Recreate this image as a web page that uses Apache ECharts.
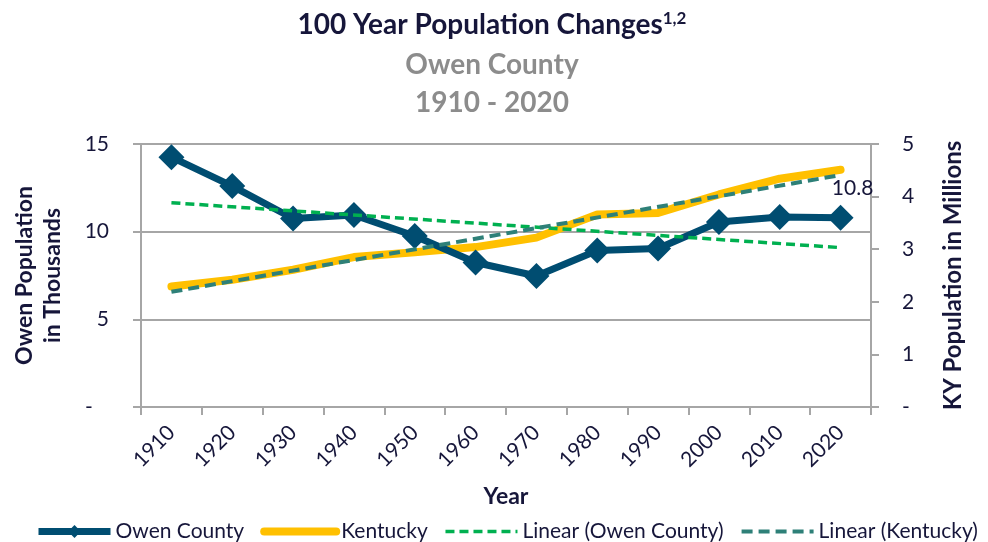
<!DOCTYPE html>
<html><head><meta charset="utf-8">
<script src="https://cdn.jsdelivr.net/npm/echarts@6/dist/echarts.min.js"></script>
<style>html,body{margin:0;padding:0;background:#fff}#c{width:988px;height:542px}</style>
</head><body><div id="c"></div>
<script>
const years = ['1910','1920','1930','1940','1950','1960','1970','1980','1990','2000','2010','2020'];
const owen = [14.25, 12.6, 10.75, 10.95, 9.75, 8.24, 7.47, 8.92, 9.04, 10.55, 10.84, 10.8];
const kentucky = [2.29, 2.42, 2.61, 2.85, 2.94, 3.04, 3.22, 3.66, 3.69, 4.04, 4.34, 4.51];
const linearOwen = [11.65, null, null, null, null, null, null, null, null, null, null, 9.09];
const linearKY = [2.19, null, null, null, null, null, null, null, null, null, null, 4.41];
const leftTicks = ['-   ', '5', '10', '15'];
const rightTicks = ['-', '1', '2', '3', '4', '5'];

const FONT = 'Lato';
const TXT = '#16163a';
const GRID = '#a6a6a6';
const chart = echarts.init(document.getElementById('c'), null, {renderer:'canvas'});
chart.setOption({
  animation: false,
  textStyle: {fontFamily: FONT},
  title: [
    {text: '{a|100 Year Population Changes}{s|1,2}', left: 487, top: 5, textAlign: 'center',
     textStyle: {rich: {a: {fontSize: 28, fontWeight: 'bold', color: TXT, fontFamily: FONT},
                        s: {fontSize: 17, fontWeight: 'bold', color: TXT, fontFamily: FONT, verticalAlign: 'top', padding:[0,0,12,0]}}}},
    {text: 'Owen County', left: 487, top: 46, textAlign: 'center',
     textStyle: {fontSize: 28, fontWeight: 'bold', color: '#8c8c8c', fontFamily: FONT}},
    {text: '1910 - 2020', left: 487, top: 84, textAlign: 'center',
     textStyle: {fontSize: 28, fontWeight: 'bold', color: '#8c8c8c', fontFamily: FONT}}
  ],
  legend: {
    top: 516, left: 30, itemWidth: 72, itemHeight: 16, itemGap: 16,
    textStyle: {fontSize: 21, color: TXT, fontFamily: FONT},
    lineStyle: {width: 'inherit'},
    data: [
      {name: 'Owen County'},
      {name: 'Kentucky', itemStyle: {opacity: 0}},
      {name: 'Linear (Owen County)', itemStyle: {opacity: 0}},
      {name: 'Linear (Kentucky)', itemStyle: {opacity: 0}}
    ]
  },
  grid: {left: 141, right: 117, top: 144, bottom: 135},
  xAxis: {
    type: 'category', data: years, boundaryGap: true,
    name: 'Year', nameLocation: 'middle', nameGap: 78,
    nameTextStyle: {fontSize: 23, fontWeight: 'bold', color: TXT},
    axisLine: {lineStyle: {color: GRID, width: 2}},
    axisTick: {show: true, length: 8, lineStyle: {color: GRID, width: 2}},
    axisLabel: {rotate: 45, fontSize: 21, color: TXT, margin: 22}
  },
  yAxis: [
    {type: 'value', min: 0, max: 15, interval: 5, position: 'left',
     name: 'Owen Population\nin Thousands', nameLocation: 'middle', nameGap: 74, nameRotate: 90,
     nameTextStyle: {fontSize: 23, fontWeight: 'bold', color: TXT, lineHeight: 28},
     axisLine: {show: true, lineStyle: {color: GRID, width: 2}},
     axisTick: {show: true, length: 8, lineStyle: {color: GRID, width: 2}},
     splitLine: {show: true, lineStyle: {color: GRID, width: 2}},
     axisLabel: {fontSize: 21, color: TXT, margin: 32, formatter: v => leftTicks[v/5]}},
    {type: 'value', min: 0, max: 5, interval: 1, position: 'right',
     name: 'KY Population in Millions', nameLocation: 'middle', nameGap: 70, nameRotate: 90,
     nameTextStyle: {fontSize: 24, fontWeight: 'bold', color: TXT},
     axisLine: {show: true, lineStyle: {color: GRID, width: 2}},
     axisTick: {show: true, length: 8, lineStyle: {color: GRID, width: 2}},
     splitLine: {show: false},
     axisLabel: {fontSize: 21, color: TXT, margin: 31, formatter: v => rightTicks[v]}}
  ],
  series: [
    {name: 'Kentucky', type: 'line', yAxisIndex: 1, data: kentucky, symbol: 'none', z: 2,
     lineStyle: {color: '#ffc000', width: 8, cap: 'round'}, itemStyle: {color: '#ffc000'}},
    {name: 'Owen County', type: 'line', yAxisIndex: 0, data: owen, symbol: 'diamond', symbolSize: 26, z: 3,
     lineStyle: {color: '#004d71', width: 7}, itemStyle: {color: '#004d71'},
     label: {show: false},
     markPoint: {symbol: 'circle', symbolSize: 1, itemStyle: {color: 'rgba(0,0,0,0)'},
       data: [{coord: [11, owen[11]], value: owen[11]}],
       label: {show: true, position: 'top', distance: 18, offset: [12, 0], fontSize: 21, color: TXT,
               formatter: p => p.value.toFixed(1)}}},
    {name: 'Linear (Owen County)', type: 'line', yAxisIndex: 0, data: linearOwen, connectNulls: true, symbol: 'none', z: 4,
     lineStyle: {color: '#00b050', width: 3.5, type: [9, 5]}, itemStyle: {color: '#00b050'}},
    {name: 'Linear (Kentucky)', type: 'line', yAxisIndex: 1, data: linearKY, connectNulls: true, symbol: 'none', z: 4,
     lineStyle: {color: '#2e8078', width: 4, type: [11, 6]}, itemStyle: {color: '#2e8078'}}
  ]
});
</script></body></html>
